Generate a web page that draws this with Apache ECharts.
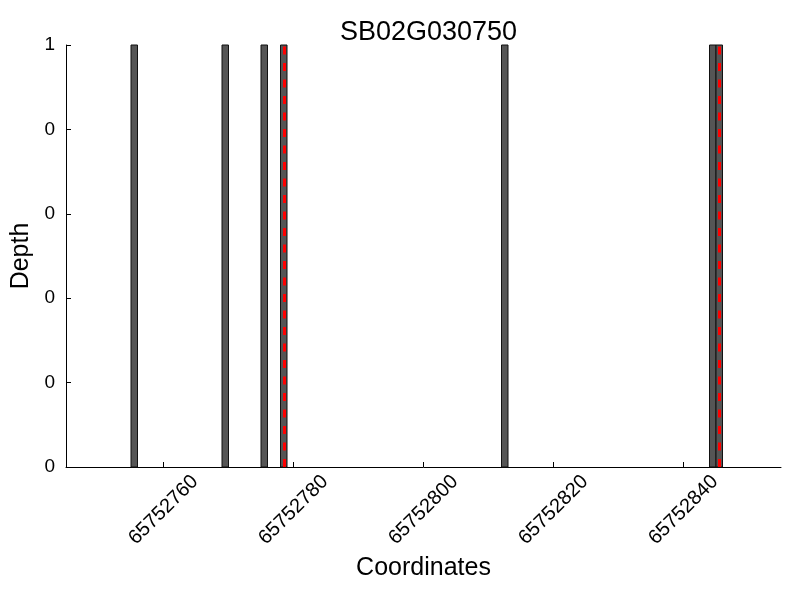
<!DOCTYPE html>
<html><head><meta charset="utf-8">
<script src="https://cdn.jsdelivr.net/npm/echarts@6/dist/echarts.min.js"></script>
<style>html,body{margin:0;padding:0;background:#fff}#c{width:800px;height:600px}</style>
</head><body><div id="c"></div>
<script>
const title = "SB02G030750";
const barStarts = [65752755, 65752769, 65752775, 65752778, 65752812, 65752844, 65752845];
const barDepths = [1, 1, 1, 1, 1, 1, 1];
const markerPositions = [65752778.5, 65752845.5];
const xTicks = [65752760, 65752780, 65752800, 65752820, 65752840];
const yTicks = [0, 0.2, 0.4, 0.6, 0.8, 1];
const xMin = 65752745, xMax = 65752855;

const font = "Liberation Sans";
const chart = echarts.init(document.getElementById('c'), null, {renderer: 'canvas'});
chart.setOption({
  animation: false,
  title: {text: title, left: 423.5, textAlign: 'center', top: 14,
    textStyle: {fontFamily: font, fontSize: 27, fontWeight: 'normal', color: '#000'}},
  grid: {left: 66, right: 19, top: 45, bottom: 133, containLabel: false},
  xAxis: {
    type: 'value', min: xMin, max: xMax,
    name: 'Coordinates', nameLocation: 'middle', nameGap: 89,
    nameTextStyle: {fontFamily: font, fontSize: 25, color: '#000'},
    axisLine: {show: true, onZero: false, lineStyle: {color: '#000', width: 1}},
    axisTick: {show: true, inside: true, length: 5, customValues: xTicks, lineStyle: {color: '#000'}},
    axisLabel: {customValues: xTicks, rotate: 45, align: 'center', verticalAlign: 'middle', margin: 43,
      fontFamily: font, fontSize: 20, color: '#000',
      formatter: v => String(v)},
    splitLine: {show: false}
  },
  yAxis: {
    type: 'value', min: 0, max: 1, interval: 0.2,
    name: 'Depth', nameLocation: 'middle', nameGap: 22,
    nameTextStyle: {fontFamily: font, fontSize: 25, color: '#000'},
    axisLine: {show: true, lineStyle: {color: '#000', width: 1}},
    axisTick: {show: true, inside: true, length: 5, customValues: yTicks, lineStyle: {color: '#000'}},
    axisLabel: {customValues: yTicks, margin: 11, fontFamily: font, fontSize: 19, color: '#000',
      formatter: v => String(Math.floor(v + 1e-9))},
    splitLine: {show: false}
  },
  series: [{
    type: 'custom',
    data: barStarts.map((x, i) => [x, barDepths[i]]),
    renderItem: function (params, api) {
      const x = api.value(0), d = api.value(1);
      const p0 = api.coord([x, d]);
      const p1 = api.coord([x + 1, 0]);
      return {type: 'rect', shape: {x: p0[0], y: p0[1], width: p1[0] - p0[0], height: p1[1] - p0[1]},
        style: {fill: '#555555', stroke: '#111111', lineWidth: 1}};
    },
    markLine: {
      silent: true, symbol: ['none', 'none'], label: {show: false},
      lineStyle: {color: '#ff0000', width: 3, type: [8, 8.5]},
      data: markerPositions.map(x => ({xAxis: x}))
    }
  }]
});
</script></body></html>
